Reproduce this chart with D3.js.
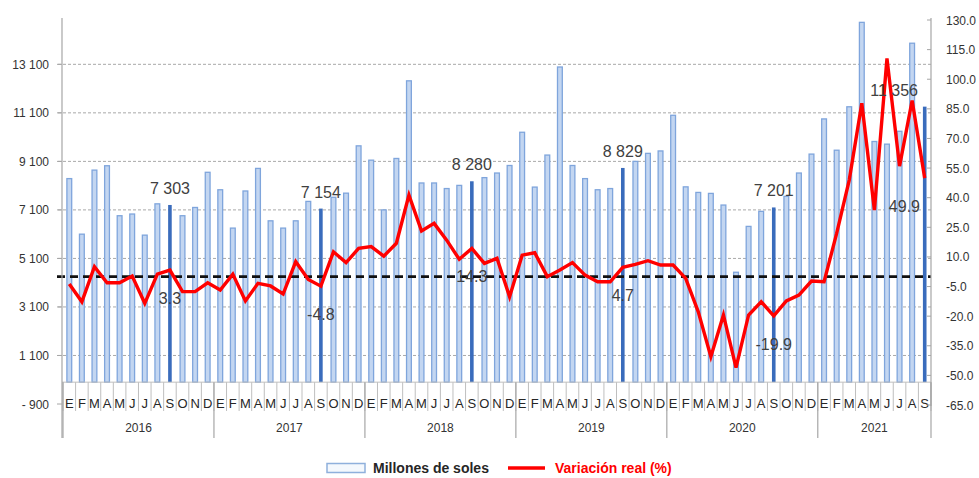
<!DOCTYPE html>
<html>
<head>
<meta charset="utf-8">
<script src="https://cdn.jsdelivr.net/npm/d3@7"></script>
<style>
  html, body { margin: 0; padding: 0; background: #ffffff; }
  svg { display: block; font-family: "Liberation Sans", Arial, sans-serif; }
</style>
</head>
<body>
<svg id="chart" width="979" height="478"></svg>
<script>
// ---------------- DATA ----------------
const monthLetters = ["E","F","M","A","M","J","J","A","S","O","N","D"];
const years = ["2016","2017","2018","2019","2020","2021"];
const monthsPerYear = [12, 12, 12, 12, 12, 9];

// Millones de soles (bars)
const millones = [
  8390, 6100, 8740, 8920, 6860, 6930, 6060, 7350, 7303, 6860, 7200, 8650,
  7930, 6350, 7880, 8810, 6650, 6350, 6650, 7450, 7154, 7620, 7790, 9740,
  9150, 7100, 9220, 12420, 8210, 8210, 7980, 8110, 8280, 8430, 8620, 8930,
  10300, 8040, 9360, 12990, 8930, 8390, 7930, 7980, 8829, 9100, 9430, 9530,
  11000, 8050, 7820, 7780, 7300, 4530, 6420, 7040, 7201, 7660, 8620, 9400,
  10850, 9560, 11350, 14830, 9920, 9810, 10340, 13970, 11356
];

// Variación real (%) (line)
const variacion = [
  -3.7, -12.7, 5.0, -3.1, -3.1, 0.3, -13.5, 1.3, 3.3, -7.6, -7.6, -3.1,
  -6.8, 1.3, -12.3, -3.4, -4.7, -8.8, 7.6, -1.4, -4.8, 12.6, 7.1, 14.3,
  15.2, 10.4, 16.9, 41.3, 23.1, 27.0, 18.5, 8.8, 14.3, 6.7, 9.3, -10.2,
  10.9, 12.1, 0.0, 3.4, 7.1, 0.8, -2.6, -2.6, 4.7, 6.2, 8.1, 5.9,
  5.9, -0.9, -17.8, -40.5, -19.4, -46.1, -19.4, -12.7, -19.9, -12.3, -9.3, -2.2,
  -2.6, 21.9, 48.9, 87.8, 33.7, 110.5, 56.0, 89.2, 49.9
];

// labelled (September) points
const labelIdx = [8, 20, 32, 44, 56, 68];
const barLabels = ["7 303", "7 154", "8 280", "8 829", "7 201", "11 356"];
const lineLabels = ["3.3", "-4.8", "14.3", "4.7", "-19.9", "49.9"];

const leftTicks = [-900, 1100, 3100, 5100, 7100, 9100, 11100, 13100];
const leftTickLabels = ["- 900", "1 100", "3 100", "5 100", "7 100", "9 100", "11 100", "13 100"];
const rightTicks = [-65, -50, -35, -20, -5, 10, 25, 40, 55, 70, 85, 100, 115, 130];
const rightTickLabels = ["-65.0","-50.0","-35.0","-20.0","-5.0","10.0","25.0","40.0","55.0","70.0","85.0","100.0","115.0","130.0"];

const legendLabels = ["Millones de soles", "Variación real (%)"];

// ---------------- BUILD ----------------
const months = [];
years.forEach((y, yi) => {
  for (let m = 0; m < monthsPerYear[yi]; m++) months.push({ year: y, letter: monthLetters[m], m });
});
const data = months.map((d, i) => ({ ...d, i, bar: millones[i], pct: variacion[i] }));

const svg = d3.select("#chart");
const x = d3.scaleBand().domain(d3.range(data.length)).range([63, 931]).padding(0);
const yL = d3.scaleLinear().domain([-900, 15100]).range([404, 15.8]);
const yR = d3.scaleLinear().domain([-65, 130]).range([405, 20]);
const cx = i => x(i) + x.bandwidth() / 2;

const plotLeft = 62, plotRight = 931;
const baseY = yL(0);

// gridlines
svg.append("g").selectAll("line").data(leftTicks.filter(t => t > 0)).join("line")
  .attr("x1", 58).attr("x2", plotRight)
  .attr("y1", d => yL(d)).attr("y2", d => yL(d))
  .attr("stroke", "#a9a9a9").attr("stroke-width", 1).attr("stroke-dasharray", "3,2");

// bars
svg.append("g").selectAll("rect").data(data).join("rect")
  .attr("x", d => labelIdx.includes(d.i) ? cx(d.i) - 1.8 : cx(d.i) - 2.4)
  .attr("width", d => labelIdx.includes(d.i) ? 3.6 : 4.8)
  .attr("y", d => yL(d.bar))
  .attr("height", d => baseY - yL(d.bar))
  .attr("fill", d => labelIdx.includes(d.i) ? "#3a6cbc" : "#c3d6f1")
  .attr("stroke", d => labelIdx.includes(d.i) ? "none" : "#7fa5dc")
  .attr("stroke-width", 1.3);

// zero dashed line (right axis)
svg.append("line")
  .attr("x1", 57).attr("x2", plotRight)
  .attr("y1", yR(0)).attr("y2", yR(0))
  .attr("stroke", "#111").attr("stroke-width", 2.6).attr("stroke-dasharray", "8,5");

// red line
const line = d3.line().x(d => cx(d.i)).y(d => yR(d.pct));
svg.append("path").datum(data).attr("d", line)
  .attr("fill", "none").attr("stroke", "#ff0000").attr("stroke-width", 3.4)
  .attr("stroke-linejoin", "miter");

// category axis base line
svg.append("line").attr("x1", plotLeft).attr("x2", plotRight)
  .attr("y1", baseY).attr("y2", baseY).attr("stroke", "#bfbfbf").attr("stroke-width", 1);

// month cell separators
svg.append("g").selectAll("line").data(d3.range(data.length + 1)).join("line")
  .attr("x1", i => i < data.length ? x(i) : plotRight)
  .attr("x2", i => i < data.length ? x(i) : plotRight)
  .attr("y1", baseY).attr("y2", 411)
  .attr("stroke", "#bfbfbf").attr("stroke-width", 1);

// year separators
const yearStarts = [];
let acc = 0;
monthsPerYear.forEach(n => { yearStarts.push(acc); acc += n; });
svg.append("g").selectAll("line").data(yearStarts.concat([data.length])).join("line")
  .attr("x1", i => i < data.length ? x(i) : plotRight)
  .attr("x2", i => i < data.length ? x(i) : plotRight)
  .attr("y1", baseY).attr("y2", 438)
  .attr("stroke", "#a6a6a6").attr("stroke-width", 1.2);

// month letters
svg.append("g").selectAll("text").data(data).join("text")
  .attr("x", d => cx(d.i)).attr("y", 408)
  .attr("text-anchor", "middle").attr("font-size", 13).attr("fill", "#262626")
  .text(d => d.letter);

// year labels
svg.append("g").selectAll("text").data(years).join("text")
  .attr("x", (y, yi) => {
    const s = yearStarts[yi], e = s + monthsPerYear[yi];
    return ((x(s)) + (e < data.length ? x(e) : plotRight)) / 2;
  })
  .attr("y", 432).attr("text-anchor", "middle").attr("font-size", 12).attr("fill", "#333")
  .text(d => d);

// left axis
svg.append("line").attr("x1", plotLeft).attr("x2", plotLeft).attr("y1", 18).attr("y2", 438)
  .attr("stroke", "#a6a6a6").attr("stroke-width", 1.2);
const lg = svg.append("g");
lg.selectAll("line").data(leftTicks).join("line")
  .attr("x1", 57).attr("x2", plotLeft).attr("y1", d => yL(d)).attr("y2", d => yL(d))
  .attr("stroke", "#a6a6a6");
lg.selectAll("text").data(leftTicks).join("text")
  .attr("x", 49).attr("y", d => yL(d) + 4.5).attr("text-anchor", "end")
  .attr("font-size", 12).attr("fill", "#333")
  .text((d, i) => leftTickLabels[i]);

// right axis
svg.append("line").attr("x1", plotRight).attr("x2", plotRight).attr("y1", 18).attr("y2", 406)
  .attr("stroke", "#a6a6a6").attr("stroke-width", 1.2);
const rg = svg.append("g");
rg.selectAll("line").data(rightTicks).join("line")
  .attr("x1", plotRight - 4).attr("x2", plotRight).attr("y1", d => yR(d)).attr("y2", d => yR(d))
  .attr("stroke", "#a6a6a6");
rg.selectAll("text").data(rightTicks).join("text")
  .attr("x", 946).attr("y", d => yR(d) + 4.5).attr("text-anchor", "start")
  .attr("font-size", 12).attr("fill", "#333")
  .text((d, i) => rightTickLabels[i]);

// data labels
const lastIdx = data.length - 1;
svg.append("g").selectAll("text").data(labelIdx).join("text")
  .attr("x", i => i === lastIdx ? 918 : cx(i))
  .attr("text-anchor", i => i === lastIdx ? "end" : "middle")
  .attr("y", i => yL(millones[i]) - 11)
  .attr("font-size", 16).attr("fill", "#404040")
  .text((i, k) => barLabels[k]);
svg.append("g").selectAll("text").data(labelIdx).join("text")
  .attr("x", i => i === lastIdx ? 920 : cx(i))
  .attr("text-anchor", i => i === lastIdx ? "end" : "middle")
  .attr("y", i => yR(variacion[i]) + 34)
  .attr("font-size", 16).attr("fill", "#404040")
  .text((i, k) => lineLabels[k]);

// legend
const leg = svg.append("g");
leg.append("rect").attr("x", 327).attr("y", 463.5).attr("width", 38).attr("height", 9)
  .attr("fill", "#f4f8fd").attr("stroke", "#8fb0dc").attr("stroke-width", 1.5);
leg.append("text").attr("x", 373).attr("y", 473).attr("font-size", 14).attr("font-weight", "bold")
  .attr("fill", "#262626").text(legendLabels[0]);
leg.append("line").attr("x1", 508).attr("x2", 545).attr("y1", 468).attr("y2", 468)
  .attr("stroke", "#ff0000").attr("stroke-width", 3.4);
leg.append("text").attr("x", 555).attr("y", 473).attr("font-size", 14).attr("font-weight", "bold")
  .attr("fill", "#ff0000").text(legendLabels[1]);
</script>
</body>
</html>
